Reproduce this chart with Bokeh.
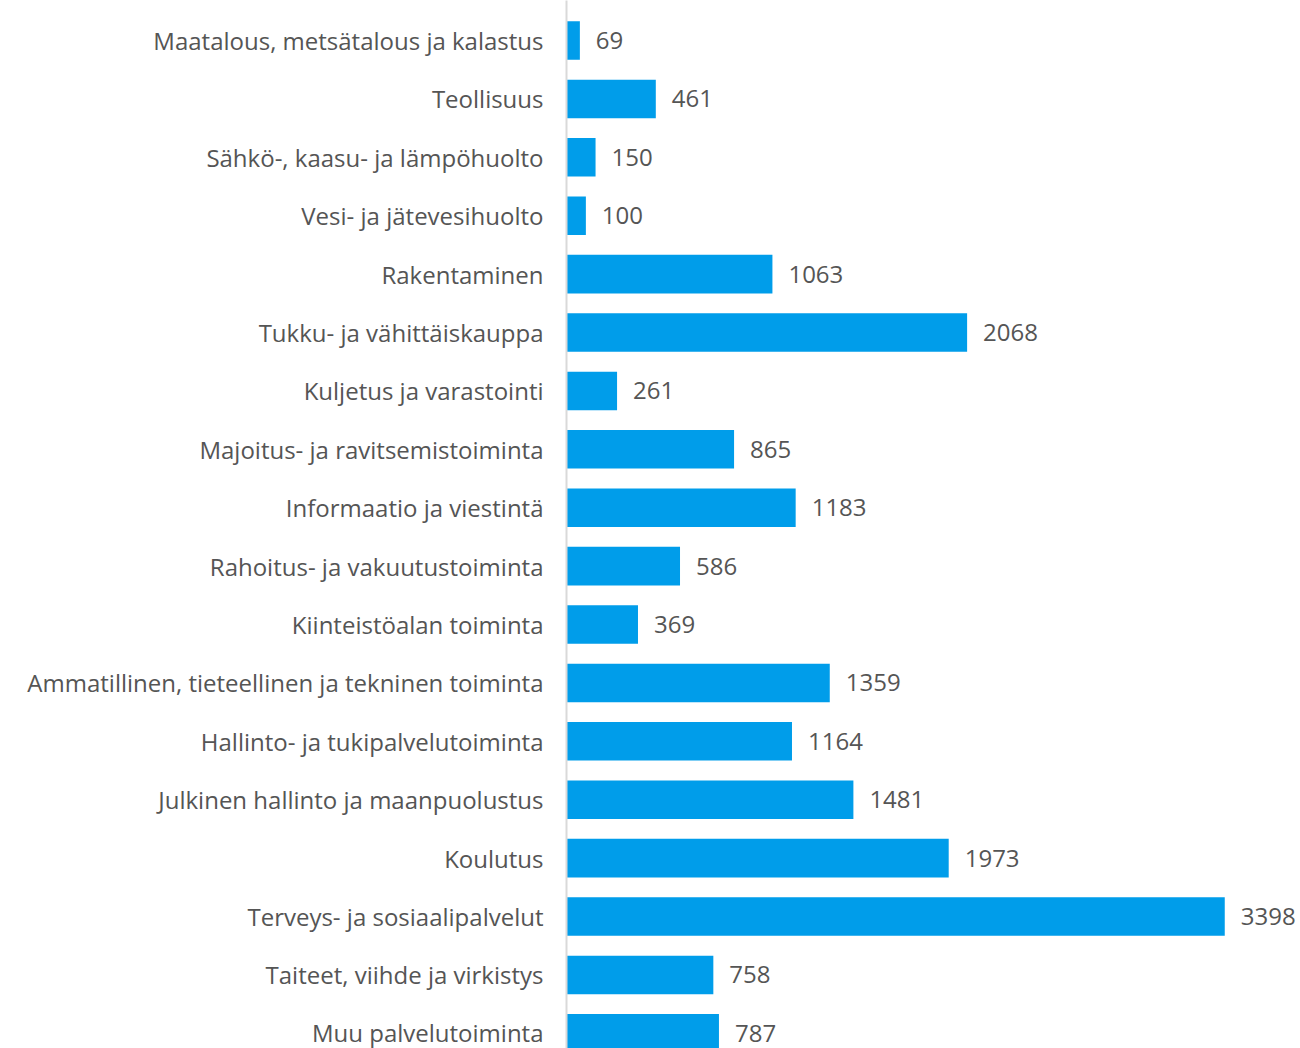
from bokeh.plotting import figure
from bokeh.models import Range1d, FixedTicker, ColumnDataSource
from bokeh.core.properties import value
from bokeh.embed import file_html
from bokeh.resources import INLINE

categories = [
    "Maatalous, metsätalous ja kalastus",
    "Teollisuus",
    "Sähkö-, kaasu- ja lämpöhuolto",
    "Vesi- ja jätevesihuolto",
    "Rakentaminen",
    "Tukku- ja vähittäiskauppa",
    "Kuljetus ja varastointi",
    "Majoitus- ja ravitsemistoiminta",
    "Informaatio ja viestintä",
    "Rahoitus- ja vakuutustoiminta",
    "Kiinteistöalan toiminta",
    "Ammatillinen, tieteellinen ja tekninen toiminta",
    "Hallinto- ja tukipalvelutoiminta",
    "Julkinen hallinto ja maanpuolustus",
    "Koulutus",
    "Terveys- ja sosiaalipalvelut",
    "Taiteet, viihde ja virkistys",
    "Muu palvelutoiminta",
]
values = [69, 461, 150, 100, 1063, 2068, 261, 865, 1183, 586, 369, 1359, 1164, 1481, 1973, 3398, 758, 787]

FONT = "Open Sans"
TEXT_COLOR = "#555555"
BAR_COLOR = "#009DEA"

positions = list(range(len(categories)))
src = ColumnDataSource(dict(y=positions, v=values, lab=[str(v) for v in values]))

p = figure(
    width=1300, height=1048,
    x_range=Range1d(0, 3789),
    y_range=Range1d(17.26, -0.685),
    output_backend="svg", toolbar_location=None,
    min_border_left=566, min_border_right=0, min_border_top=0, min_border_bottom=0,
)
p.hbar(y="y", right="v", left=0, height=0.66, source=src, color=BAR_COLOR, line_color=None)
p.text(x="v", y="y", text="lab", source=src, x_offset=16, text_align="left",
       text_baseline="middle", text_font=value(FONT), text_font_size="24px", text_color=TEXT_COLOR)

p.xaxis.visible = False
p.xgrid.visible = False
p.ygrid.visible = False
p.outline_line_color = None

ax = p.yaxis[0]
ax.ticker = FixedTicker(ticks=positions)
ax.major_label_overrides = {i: c for i, c in enumerate(categories)}
ax.major_tick_line_color = None
ax.minor_tick_line_color = None
ax.axis_line_color = "#D9D9D9"
ax.axis_line_width = 2
ax.major_label_standoff = 17
ax.major_label_text_font = FONT
ax.major_label_text_font_size = "24px"
ax.major_label_text_color = TEXT_COLOR

open("out.html", "w").write(file_html(p, INLINE))
